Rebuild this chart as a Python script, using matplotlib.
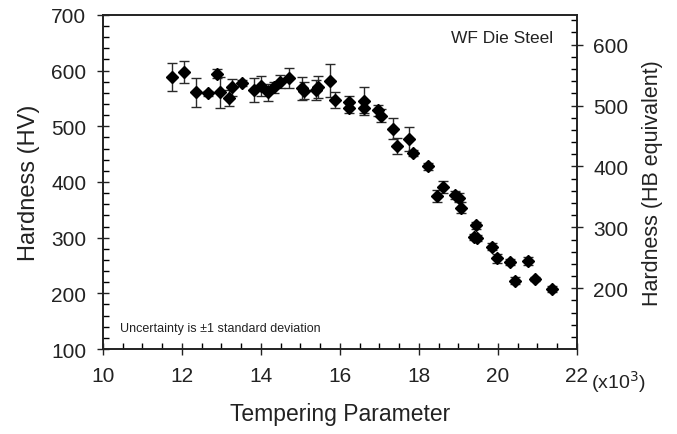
import matplotlib
matplotlib.use("Agg")
import matplotlib.pyplot as plt
from matplotlib.ticker import MultipleLocator
import numpy as np

plt.rcParams['font.family'] = ['Liberation Sans', 'DejaVu Sans']

# Tempering parameter (x10^3) and Vickers hardness with ±1 standard deviation
tempering = [11.76, 12.06, 12.37, 12.65, 12.89, 12.96, 13.20, 13.26, 13.53, 13.83,
             14.01, 14.18, 14.34, 14.48, 14.71, 15.03, 15.09, 15.40, 15.45, 15.76,
             15.87, 16.24, 16.24, 16.61, 16.61, 16.97, 17.04, 17.34, 17.44, 17.75,
             17.86, 18.24, 18.47, 18.62, 18.91, 19.01, 19.08, 19.39, 19.48, 19.46,
             19.84, 19.98, 20.32, 20.43, 20.77, 20.94, 21.38]
hardness_hv = [589, 597, 561, 559, 594, 561, 551, 570, 578, 565,
               573, 561, 570, 580, 586, 568, 564, 566, 571, 582,
               547, 544, 533, 546, 533, 529, 519, 496, 465, 477,
               452, 428, 375, 391, 377, 372, 354, 301, 299, 322,
               284, 263, 256, 223, 258, 226, 208]
std_dev = [25, 20, 26, 5, 8, 28, 15, 15, 6, 22,
           18, 15, 10, 12, 18, 20, 15, 18, 20, 30,
           14, 10, 10, 25, 10, 10, 12, 18, 14, 21,
           6, 6, 11, 10, 7, 8, 10, 5, 5, 6,
           7, 8, 5, 7, 7, 4, 6]

# Linear HV -> HB equivalence used for the right-hand scale
hv_ref, hb_ref, hv_per_hb = 209.0, 200.0, 1.094

def hv_to_hb(hv):
    return hb_ref + (np.asarray(hv) - hv_ref) / hv_per_hb

ink = '#222222'
fig = plt.figure(figsize=(6.77, 4.35), dpi=100)
ax = fig.add_axes([0.152, 0.1954, 0.70, 0.768])

ax.errorbar(tempering, hardness_hv, yerr=std_dev, fmt='D', color='black',
            markersize=6.3, ecolor='#2a2a2a', elinewidth=1.0, capsize=3.5,
            capthick=1.0, zorder=3)

ax.set_xlim(10, 22)
ax.set_ylim(100, 700)
ax.xaxis.set_major_locator(MultipleLocator(2))
ax.xaxis.set_minor_locator(MultipleLocator(0.5))
ax.yaxis.set_major_locator(MultipleLocator(100))
ax.yaxis.set_minor_locator(MultipleLocator(20))

ax.tick_params(axis='both', which='major', direction='inout', length=9,
               width=1.0, labelsize=15, colors=ink, pad=7.5)
ax.tick_params(axis='both', which='minor', direction='in', length=4, width=1.0)
ax.tick_params(axis='x', which='major', pad=8)
ax.tick_params(top=False, right=False, which='both')
for s in ax.spines.values():
    s.set_linewidth(1.2)
    s.set_color(ink)

ax.set_xlabel('Tempering Parameter', fontsize=16.5, color=ink, labelpad=12)
ax.set_ylabel('Hardness (HV)', fontsize=17, color=ink, labelpad=8)

ax2 = ax.twinx()
ax2.set_ylim(hv_to_hb(100), hv_to_hb(700))
ax2.yaxis.set_major_locator(MultipleLocator(100))
ax2.yaxis.set_minor_locator(MultipleLocator(20))
ax2.tick_params(axis='y', which='major', direction='inout', length=9, width=1.0,
                labelsize=15, colors=ink, pad=7.5)
ax2.tick_params(axis='y', which='minor', direction='in', length=4, width=1.0)
ax2.set_ylabel('Hardness (HB equivalent)', fontsize=15.5, color=ink, labelpad=10)
for s in ax2.spines.values():
    s.set_linewidth(1.2)
    s.set_color(ink)

ax.text(0.949, 0.955, 'WF Die Steel', transform=ax.transAxes, ha='right',
        va='top', fontsize=12.5, color=ink)
ax.text(0.036, 0.045, 'Uncertainty is \u00b11 standard deviation',
        transform=ax.transAxes, ha='left', va='bottom', fontsize=9,
        color=ink)
ax.text(1.03, -0.058, '(x10$^3$)', transform=ax.transAxes, ha='left',
        va='top', fontsize=14, color=ink)

fig.savefig('out.png', dpi=100)
